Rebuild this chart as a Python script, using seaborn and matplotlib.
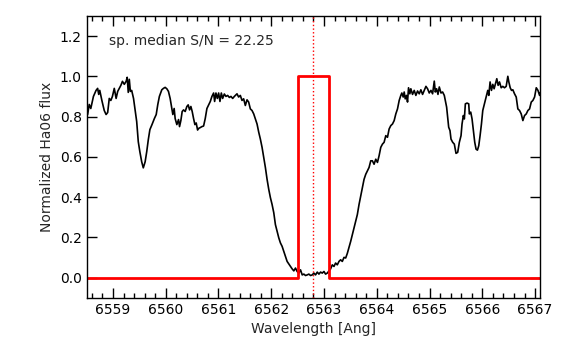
import numpy as np
import pandas as pd
import matplotlib
matplotlib.use("Agg")
import matplotlib.pyplot as plt
from matplotlib.ticker import MultipleLocator
import seaborn as sns

wave = [
    6558.52, 6558.55, 6558.58, 6558.63, 6558.68, 6558.71, 6558.73, 6558.75, 6558.79, 6558.835,
    6558.87, 6558.90, 6558.93, 6558.96, 6558.99, 6559.025, 6559.06, 6559.09, 6559.12, 6559.15,
    6559.18, 6559.215, 6559.25, 6559.27, 6559.29, 6559.31, 6559.33, 6559.355, 6559.39, 6559.425,
    6559.45, 6559.48, 6559.51, 6559.545, 6559.575, 6559.61, 6559.64, 6559.67, 6559.70, 6559.74,
    6559.785, 6559.82, 6559.85, 6559.88,
    6559.926, 6559.957, 6559.989, 6560.021, 6560.052, 6560.084, 6560.116, 6560.135, 6560.160, 6560.179,
    6560.211, 6560.243, 6560.262, 6560.287, 6560.312, 6560.338, 6560.369, 6560.401, 6560.426, 6560.452,
    6560.477, 6560.502, 6560.528, 6560.553, 6560.578, 6560.604, 6560.629, 6560.654, 6560.686, 6560.718,
    6560.749, 6560.781, 6560.813, 6560.845, 6560.876, 6560.908, 6560.927, 6560.952, 6560.978, 6561.003,
    6561.028, 6561.054, 6561.079, 6561.111, 6561.142, 6561.174, 6561.206, 6561.237, 6561.269, 6561.301,
    6561.351, 6561.382, 6561.414, 6561.446, 6561.477, 6561.509, 6561.541, 6561.572, 6561.604, 6561.636,
    6561.668, 6561.699, 6561.731, 6561.763, 6561.794, 6561.826, 6561.858, 6561.889, 6561.921, 6561.953,
    6561.984, 6562.016, 6562.048, 6562.079, 6562.111, 6562.143, 6562.174, 6562.206, 6562.238, 6562.270,
    6562.301, 6562.333, 6562.365, 6562.396, 6562.428, 6562.460, 6562.491, 6562.523, 6562.555,
    6562.587, 6562.618, 6562.650, 6562.682, 6562.713, 6562.745, 6562.777, 6562.808, 6562.840, 6562.872,
    6562.904, 6562.935, 6562.967, 6562.999, 6563.030, 6563.062, 6563.094, 6563.125, 6563.157, 6563.189,
    6563.220, 6563.252, 6563.284, 6563.315, 6563.347, 6563.379, 6563.411, 6563.442, 6563.474, 6563.506,
    6563.537, 6563.569, 6563.601, 6563.632, 6563.664, 6563.696, 6563.727, 6563.759, 6563.791, 6563.822,
    6563.854, 6563.886, 6563.917, 6563.949, 6563.981,
    6564.013, 6564.044, 6564.076, 6564.108, 6564.139, 6564.171, 6564.203, 6564.234, 6564.266, 6564.298,
    6564.330, 6564.361, 6564.393, 6564.425, 6564.456, 6564.475, 6564.501, 6564.520, 6564.539, 6564.564,
    6564.583, 6564.602, 6564.627, 6564.646, 6564.678, 6564.710, 6564.741, 6564.773, 6564.805, 6564.836,
    6564.868, 6564.900, 6564.932, 6564.963, 6564.995, 6565.027, 6565.058, 6565.090, 6565.109, 6565.134,
    6565.160, 6565.185, 6565.217, 6565.248, 6565.280, 6565.299, 6565.324, 6565.343, 6565.363, 6565.388,
    6565.407, 6565.439, 6565.470,
    6565.502, 6565.534, 6565.565, 6565.597, 6565.616, 6565.641, 6565.660, 6565.679, 6565.711, 6565.743,
    6565.755, 6565.781, 6565.806, 6565.832, 6565.857, 6565.882, 6565.908, 6565.933, 6565.958, 6565.984,
    6566.009, 6566.041, 6566.072, 6566.104, 6566.123, 6566.148, 6566.174, 6566.199, 6566.224, 6566.250,
    6566.275, 6566.300, 6566.326, 6566.358, 6566.389, 6566.421, 6566.453, 6566.484, 6566.503, 6566.529,
    6566.554, 6566.579, 6566.611, 6566.643, 6566.674, 6566.706, 6566.738, 6566.769, 6566.801, 6566.833,
    6566.864, 6566.896, 6566.928, 6566.959, 6566.991, 6567.023, 6567.055, 6567.086, 6567.100,
]
flux = [
    0.81, 0.86, 0.84, 0.90, 0.93, 0.94, 0.91, 0.93, 0.88, 0.83,
    0.81, 0.82, 0.89, 0.88, 0.90, 0.94, 0.89, 0.925, 0.94, 0.955,
    0.975, 0.96, 0.975, 0.995, 0.92, 0.985, 0.925, 0.93, 0.89, 0.825,
    0.775, 0.675, 0.625, 0.575, 0.545, 0.575, 0.625, 0.685, 0.735, 0.76,
    0.79, 0.81, 0.86, 0.90,
    0.933, 0.94, 0.945, 0.938, 0.925, 0.89, 0.84, 0.81, 0.84, 0.79,
    0.76, 0.785, 0.75, 0.78, 0.825, 0.833, 0.825, 0.85, 0.858, 0.833,
    0.85, 0.825, 0.79, 0.76, 0.768, 0.733, 0.742, 0.745, 0.75, 0.753,
    0.79, 0.84, 0.858, 0.875, 0.90, 0.917, 0.875, 0.917, 0.89, 0.917,
    0.875, 0.917, 0.89, 0.912, 0.90, 0.905, 0.895, 0.90, 0.89, 0.90,
    0.913, 0.897, 0.905, 0.88, 0.888, 0.855, 0.883, 0.872, 0.838, 0.83,
    0.813, 0.788, 0.763, 0.722, 0.688, 0.647, 0.597, 0.547, 0.488, 0.438,
    0.397, 0.363, 0.322, 0.263, 0.23, 0.197, 0.172, 0.155, 0.13, 0.105,
    0.08, 0.067, 0.055, 0.043, 0.033, 0.047, 0.03, 0.022, 0.038,
    0.013, 0.017, 0.01, 0.013, 0.017, 0.01, 0.013, 0.022, 0.013, 0.027,
    0.017, 0.027, 0.022, 0.03, 0.017, 0.022, 0.033, 0.043, 0.063, 0.055,
    0.072, 0.063, 0.08, 0.088, 0.08, 0.10, 0.097, 0.12, 0.15, 0.18,
    0.213, 0.247, 0.28, 0.313, 0.363, 0.405, 0.447, 0.488, 0.513, 0.53,
    0.547, 0.58, 0.58, 0.563, 0.588,
    0.572, 0.605, 0.647, 0.663, 0.672, 0.705, 0.697, 0.738, 0.755, 0.763,
    0.78, 0.813, 0.838, 0.88, 0.905, 0.917, 0.897, 0.922, 0.888, 0.905,
    0.872, 0.943, 0.913, 0.938, 0.91, 0.93, 0.905, 0.927, 0.913, 0.933,
    0.91, 0.93, 0.95, 0.938, 0.917, 0.93, 0.913, 0.976, 0.922, 0.938,
    0.91, 0.947, 0.917, 0.922, 0.905, 0.88, 0.847, 0.797, 0.747, 0.73,
    0.688, 0.672, 0.663,
    0.617, 0.622, 0.672, 0.705, 0.763, 0.805, 0.788, 0.863, 0.867, 0.863,
    0.813, 0.822, 0.788, 0.73, 0.672, 0.638, 0.633, 0.655, 0.705, 0.763,
    0.83, 0.863, 0.897, 0.93, 0.905, 0.972, 0.93, 0.96, 0.938, 0.963,
    0.988, 0.955, 0.972, 0.943, 0.95, 0.943, 0.95, 1.0, 0.972, 0.943,
    0.93, 0.933, 0.913, 0.897, 0.838, 0.83, 0.813, 0.78, 0.805, 0.813,
    0.83, 0.838, 0.872, 0.88, 0.897, 0.943, 0.93, 0.905, 0.92,
]

# Box filter (H-alpha window)
box_wave = [6558.5, 6562.5, 6562.5, 6563.1, 6563.1, 6567.1]
box_flux = [0.0, 0.0, 1.0, 1.0, 0.0, 0.0]

line_center = 6562.8
snr_text = "sp. median S/N = 22.25"

sns.set_style("ticks")
plt.rcParams["font.family"] = ["DejaVu Sans"]

fig = plt.figure(figsize=(5.81, 3.39), dpi=100)
ax = fig.add_axes([0.149, 0.122, 0.781, 0.831])

spec = pd.DataFrame({"wave": wave, "flux": flux})
box = pd.DataFrame({"wave": box_wave, "flux": box_flux})

sns.lineplot(data=spec, x="wave", y="flux", ax=ax, color="black",
             linewidth=1.2, estimator=None, sort=False)
sns.lineplot(data=box, x="wave", y="flux", ax=ax, color="red",
             linewidth=2, estimator=None, sort=False)
ax.axvline(line_center, color="red", linestyle=":", linewidth=1)

ax.text(0.05, 0.91, snr_text, transform=ax.transAxes, fontsize=10, va="center")

ax.set_xlim(6558.5, 6567.1)
ax.set_ylim(-0.1, 1.3)
ax.xaxis.set_major_locator(MultipleLocator(1))
ax.xaxis.set_minor_locator(MultipleLocator(0.2))
ax.yaxis.set_major_locator(MultipleLocator(0.2))
ax.tick_params(which="both", direction="in", top=True, right=True,
               labelsize=10, width=1, colors="black")
ax.tick_params(which="major", length=7)
ax.tick_params(which="minor", length=3.5)
for s in ax.spines.values():
    s.set_visible(True)
    s.set_color("black")
    s.set_linewidth(1)

ax.set_xlabel("Wavelength [Ang]", fontsize=10)
ax.set_ylabel("Normalized Ha06 flux", fontsize=10)

fig.savefig("out.png", dpi=100)
plt.close(fig)
